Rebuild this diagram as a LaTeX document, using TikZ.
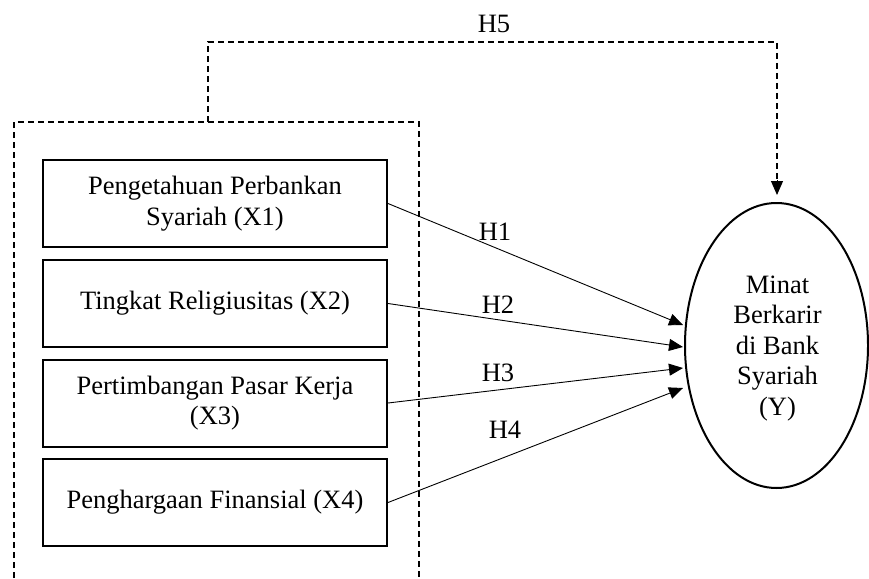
\documentclass[tikz,border=0pt]{standalone}
\usepackage{fontspec}
\setmainfont{Liberation Serif}
\usetikzlibrary{arrows.meta,shapes.geometric}
\begin{document}
\begin{tikzpicture}[x=1pt,y=-1pt,
  every node/.style={font=\fontsize{26.5}{30.5}\selectfont},
  varbox/.style={draw,line width=2pt,minimum width=344pt,minimum height=87pt,inner sep=0pt,align=center},
  ybox/.style={draw,ellipse,line width=2pt,minimum width=183pt,minimum height=285pt,inner sep=0pt},
  dashline/.style={line width=1.2pt,dash pattern=on 6pt off 4pt},
  tip/.style={-{Triangle[length=14pt,width=12pt]}},
  arr/.style={line width=0.9pt,tip},
  hlabel/.style={inner sep=0pt}]
\useasboundingbox (0,0) rectangle (869,578);
% outer dashed frame
\coordinate (fl) at (14,578);
\coordinate (fr) at (419,578);
\coordinate (fj) at (208,122);
\coordinate (ftl) at (14,122);
\coordinate (ftr) at (419,122);
\draw[dashline] (fl) -- (ftl) -- (ftr) -- (fr);
% boxes
\node[varbox] (b1) at (215,203.5) {Pengetahuan Perbankan\\Syariah (X1)};
\node[varbox] (b2) at (215,303.5) {Tingkat Religiusitas (X2)};
\node[varbox] (b3) at (215,403) {Pertimbangan Pasar Kerja\\(X3)};
\node[varbox] (b4) at (215,502.5) {Penghargaan Finansial (X4)};
% ellipse
\node[ybox,label={[name=ytext,align=center,yshift=-3pt,xshift=1pt]center:Minat\\Berkarir\\di Bank\\Syariah\\(Y)}] (y) at (776.5,345.5) {};
% arrow tips
\coordinate (t1) at (683,325);
\coordinate (t2) at (683,347);
\coordinate (t3) at (683,368);
\coordinate (t4) at (683,388);
\draw[arr] (b1.east) -- (t1);
\draw[arr] (b2.east) -- (t2);
\draw[arr] (b3.east) -- (t3);
\draw[arr] (b4.east) -- (t4);
\node[hlabel] (h1) at (495,232) {H1};
\node[hlabel] (h2) at (498,305) {H2};
\node[hlabel] (h3) at (498,373) {H3};
\node[hlabel] (h4) at (505,430) {H4};
% H5 path
\coordinate (c1) at (208,42);
\coordinate (c2) at (777,42);
\coordinate (c3) at (777,195);
\coordinate (c4) at (777,180);
\draw[dashline] (fj) -- (c1) -- (c2) -- (c4);
\draw[line width=1pt,tip] (c4) -- (c3);
\node[hlabel] (h5) at (494,24) {H5};
\end{tikzpicture}
\end{document}
